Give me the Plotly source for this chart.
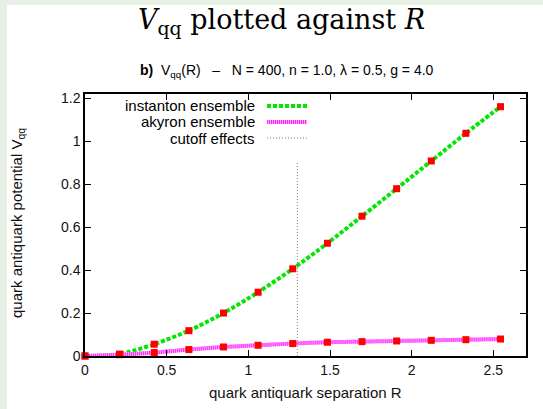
import plotly.graph_objects as go

# ---- data ----
R = [0.0, 0.212, 0.424, 0.636, 0.848, 1.06, 1.272, 1.484, 1.696, 1.908, 2.12, 2.332, 2.544]
V_instanton = [0.0, 0.009, 0.055, 0.118, 0.200, 0.297, 0.406, 0.525, 0.651, 0.779, 0.908, 1.037, 1.161]
V_instanton_err = [0.0, 0.0, 0.0, 0.001, 0.001, 0.002, 0.002, 0.003, 0.004, 0.005, 0.006, 0.007, 0.008]
V_akyron = [0.0, 0.006, 0.016, 0.030, 0.042, 0.050, 0.058, 0.064, 0.067, 0.070, 0.073, 0.076, 0.079]
cutoff_R = [1.30, 1.30]
cutoff_V = [0.0, 0.90]
x_ticks = [0, 0.5, 1, 1.5, 2, 2.5]
x_tick_labels = ["0", "0.5", "1", "1.5", "2", "2.5"]
y_ticks = [0, 0.2, 0.4, 0.6, 0.8, 1.0, 1.2]
y_tick_labels = ["0", "0.2", "0.4", "0.6", "0.8", "1", "1.2"]
legend_names = ["instanton ensemble", "akyron ensemble", "cutoff effects"]

W, H = 543, 409
L, Rm, T, B = 85, 17, 94, 53
pw, ph = W - L - Rm, H - T - B

def px(x):
    return (x - L) / pw

def py(y):
    return (H - B - y) / ph

GREEN = "#00e800"
PINK = "#ff22ff"
PINK_LIGHT = "#ffa8ff"
GRAY = "#808080"
FONT = "Liberation Sans, Arial, sans-serif"
GREEN_DASH = "4px,2px"
PINK_DASH = "1px,1px"

fig = go.Figure()
fig.add_trace(go.Scatter(x=R, y=V_instanton, mode="lines", line=dict(color=GREEN, width=4, dash=GREEN_DASH, shape="spline", smoothing=0.8), showlegend=False))
fig.add_trace(go.Scatter(x=R, y=V_akyron, mode="lines", line=dict(color=PINK_LIGHT, width=4, shape="spline", smoothing=0.8), showlegend=False))
fig.add_trace(go.Scatter(x=R, y=V_akyron, mode="lines", line=dict(color=PINK, width=4, dash=PINK_DASH, shape="spline", smoothing=0.8), showlegend=False))
fig.add_trace(go.Scatter(x=cutoff_R, y=cutoff_V, mode="lines", line=dict(color=GRAY, width=1, dash="1px,2px"), showlegend=False))
fig.add_trace(go.Scatter(x=R, y=V_akyron, mode="markers", marker=dict(symbol="square", size=7, color="#ff0000"), cliponaxis=False, showlegend=False))
fig.add_trace(go.Scatter(x=R, y=V_instanton, mode="markers", marker=dict(symbol="square", size=7, color="#ff0000"),
                         error_y=dict(type="data", array=V_instanton_err, color="#ff0000", thickness=6, width=0),
                         cliponaxis=False, showlegend=False))

shapes = []
annotations = []
# light green page frame strips
shapes.append(dict(type="rect", xref="paper", yref="paper", x0=px(0), x1=px(7), y0=py(H), y1=py(0), fillcolor="#e6f0e4", line=dict(width=0), layer="below"))
shapes.append(dict(type="rect", xref="paper", yref="paper", x0=px(0), x1=px(W), y0=py(5), y1=py(0), fillcolor="#e6f0e4", line=dict(width=0), layer="below"))

# legend (gnuplot style: text then sample)
leg_y = [106, 122, 138]
leg_styles = [[dict(color=GREEN, width=4, dash=GREEN_DASH)],
              [dict(color=PINK_LIGHT, width=4), dict(color=PINK, width=4, dash=PINK_DASH)],
              [dict(color=GRAY, width=1, dash="1px,2px")]]
for name, yy, sts in zip(legend_names, leg_y, leg_styles):
    annotations.append(dict(text=name, xref="paper", yref="paper", x=px(257), y=py(yy), xanchor="right", yanchor="middle",
                            showarrow=False, font=dict(family=FONT, size=15, color="#000")))
    for st in sts:
        shapes.append(dict(type="line", xref="paper", yref="paper", x0=px(267), x1=px(307), y0=py(yy), y1=py(yy), line=st))

# titles
annotations.append(dict(text="<i>V</i><sub>qq</sub> plotted against <i>R</i>", xref="paper", yref="paper", x=px(281), y=py(21),
                        xanchor="center", yanchor="middle", showarrow=False, font=dict(family="DejaVu Serif, serif", size=27, color="#000")))
annotations.append(dict(text="<b>b)</b>&nbsp;&nbsp;V<sub>qq</sub>(R)&nbsp;&nbsp;&nbsp;–&nbsp;&nbsp;&nbsp;N = 400, n = 1.0, λ = 0.5, g = 4.0", xref="paper", yref="paper", x=px(287), y=py(71),
                        xanchor="center", yanchor="middle", showarrow=False, font=dict(family=FONT, size=14, color="#000")))
# axis titles
annotations.append(dict(text="quark antiquark separation R", xref="paper", yref="paper", x=px(305), y=py(392),
                        xanchor="center", yanchor="middle", showarrow=False, font=dict(family=FONT, size=15, color="#111")))
annotations.append(dict(text="quark antiquark potential V<sub>qq</sub>", xref="paper", yref="paper", x=px(17), y=py(223),
                        xanchor="center", yanchor="middle", textangle=-90, showarrow=False, font=dict(family=FONT, size=15, color="#111")))

axis_common = dict(showline=True, linecolor="#000", linewidth=1.5, mirror="ticks", ticks="inside", ticklen=6, tickwidth=1,
                   tickcolor="#000", showgrid=False, zeroline=False, automargin=False, tickfont=dict(family=FONT, size=14, color="#111"))

fig.update_layout(
    width=W, height=H,
    margin=dict(l=L, r=Rm, t=T, b=B),
    paper_bgcolor="white", plot_bgcolor="white",
    xaxis=dict(range=[0, 2.7], tickvals=x_ticks, ticktext=x_tick_labels, **axis_common),
    yaxis=dict(range=[0, 1.22], tickvals=y_ticks, ticktext=y_tick_labels, **axis_common),
    shapes=shapes, annotations=annotations, showlegend=False,
)

fig.write_html("out.html", config={"displayModeBar": False},
               post_script="document.body.style.margin='0';document.body.style.overflow='hidden';")
